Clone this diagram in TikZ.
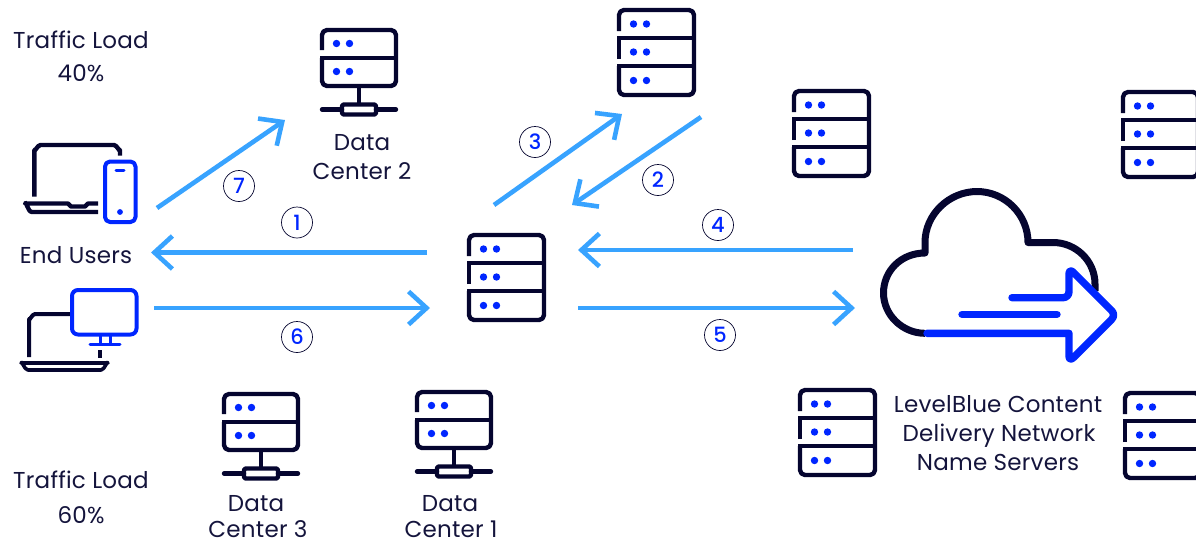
\documentclass[tikz,border=0pt]{standalone}
\usepackage{fontspec}
\setmainfont{Poppins}[LetterSpace=1]
\newfontfamily\numfont{Poppins Medium}
\usetikzlibrary{arrows.meta}
\definecolor{ink}{HTML}{05052F}
\definecolor{txt}{HTML}{14143C}
\definecolor{vivid}{HTML}{0026FF}
\definecolor{sky}{HTML}{38A3FF}
\tikzset{
  x=1pt,y=-1pt,
  icon/.style={draw=ink,line width=4.4pt,line cap=butt,line join=round},
  blueicon/.style={draw=vivid,line width=4.4pt,line cap=round,line join=round},
  led/.style={fill=vivid,draw=none},
  flow/.style={draw=sky,line width=4.6pt,-{Straight Barb[length=18pt,width=33pt,line width=4.6pt]}},
  label/.style={anchor=base,font=\fontsize{23}{28}\selectfont,text=txt,inner sep=0pt,align=center},
  stepnum/.style={circle,draw=ink,line width=0.7pt,minimum size=31pt,inner sep=0pt,text=vivid,font=\numfont\fontsize{21}{24}\selectfont},
  stackthree/.pic={
    \draw[icon,rounded corners=5pt] (2,23)--(2,2)--(77,2)--(77,87)--(2,87)--(2,58);
    \draw[icon] (0,58)--(77,58);
    \draw[icon] (2,51)--(2,30);
    \draw[icon] (0,30)--(77,30);
    \foreach \yy in {16,44,72.5}{
      \fill[led] (16.5,\yy) circle (3.7pt);
      \fill[led] (29.5,\yy) circle (3.7pt);
    }
  },
  stacktwo/.pic={
    \draw[icon,rounded corners=5pt] (2,22)--(2,2)--(76,2)--(76,58)--(2,58)--(2,30);
    \draw[icon] (0,30)--(76,30);
    \foreach \yy in {15.5,43.5}{
      \fill[led] (16.5,\yy) circle (3.7pt);
      \fill[led] (29.5,\yy) circle (3.7pt);
    }
    \draw[icon] (39,60)--(39,77);
    \draw[icon,line cap=round] (2,81.5)--(22,81.5);
    \draw[icon,line cap=round] (56,81.5)--(76,81.5);
    \draw[icon,rounded corners=1.5pt] (22,76.5) rectangle (56,86.5);
  }
}
\begin{document}
\begin{tikzpicture}
\useasboundingbox (0,0) rectangle (1196,542);
\begin{scope}
\clip (0,0) rectangle (1196,542);
% stacks
\pic (s1) at (467,233) {stackthree};
\pic (s2) at (617,8) {stackthree};
\pic (s3) at (792,89) {stackthree};
\pic (s4) at (1121,90) {stackthree};
\pic (s5) at (798,388) {stackthree};
\pic (s6) at (1123,391) {stackthree};
\end{scope}
\pic (dc2) at (320,28) {stacktwo};
\pic (dc3) at (222,392) {stacktwo};
\pic (dc1) at (415,390) {stacktwo};
% laptop + phone
\draw[icon] (34.3,196.7)--(34.3,150) to[out=-90,in=180] (40.5,145)--(114,145) to[out=0,in=-90] (120,150)--(120,155.7);
\draw[icon] (98,203.5)--(88,203.5)--(85,206.5)--(71,206.5)--(68,203.5)--(25,203.5) to[out=80,in=180] (32,212)--(98,212);
\draw[blueicon,line width=4pt,rounded corners=5pt] (105,161.5) rectangle (135.5,222);
\draw[blueicon,line width=3pt] (116,170.7)--(124,170.7);
\fill[led] (120,212) circle (2.9pt);
% monitor + laptop
\draw[icon,line width=4pt] (29,357)--(29,319) to[out=-90,in=180] (35,314)--(72,314);
\draw[blueicon,line width=4pt,rounded corners=6pt] (72,290) rectangle (136.5,334.5);
\draw[blueicon,line width=3pt,line cap=butt] (100,335)--(100,344) (110,335)--(110,344);
\draw[blueicon,line width=3pt] (90,344)--(120,344);
\draw[icon] (100,350)--(100,357.5);
\draw[icon,line width=3.6pt,line join=round] (21,363)--(108,363) to[out=100,in=0] (101,370)--(28,370) to[out=180,in=80] (21,363)--cycle;
% cloud
\draw[draw=ink,line width=7pt,line cap=butt,line join=round]
  (925,333.3) .. controls (902.6,333.3) and (883.5,315) .. (883.5,293)
  .. controls (883.5,271) and (901,253) .. (925,253)
  -- (925,242.5)
  .. controls (925,214.5) and (949,191.5) .. (977,191.5)
  .. controls (1005,191.5) and (1028,214.5) .. (1028,242.5)
  -- (1053,242.5)
  .. controls (1076,242.5) and (1095,261) .. (1095,284)
  -- (1095,291);
\draw[draw=vivid,line width=7.4pt,line cap=round,line join=round]
  (927,333.3)--(1069,333.3)
  [rounded corners=6pt] -- (1069,362)--(1116,315)--(1069,268)--(1069,297.7)
  [sharp corners] -- (1012,297.7);
\draw[draw=vivid,line width=7.4pt,line cap=round] (962,314.3)--(1057,314.3);
% anchors
\coordinate (a1s) at (427,252.5); \coordinate (a1e) at (151,252.5);
\coordinate (a6s) at (154,308); \coordinate (a6e) at (430,308);
\coordinate (a4s) at (853,250); \coordinate (a4e) at (578,250);
\coordinate (a5s) at (578,308); \coordinate (a5e) at (855,308);
\coordinate (a3s) at (494,205); \coordinate (a3e) at (622,114);
\coordinate (a2s) at (701,117); \coordinate (a2e) at (572,205);
\coordinate (a7s) at (157,208); \coordinate (a7e) at (285,120);
\foreach \n in {1,...,7}{\draw[flow] (a\n s)--(a\n e);}
% numbers
\node[stepnum] (n1) at (297,222.5) {1};
\node[stepnum] (n2) at (658,180) {2};
\node[stepnum] (n3) at (535,142) {3};
\node[stepnum] (n4) at (718,225) {4};
\node[stepnum] (n5) at (720,335) {5};
\node[stepnum] (n6) at (297,337) {6};
\node[stepnum] (n7) at (239,186) {7};
% labels
\node[label] (t1) at (81,48) {Traffic Load};
\node[label] (t2) at (81,81) {40\%};
\node[label] (t3) at (81,488) {Traffic Load};
\node[label] (t4) at (81,523) {60\%};
\node[label] (t5) at (76,263.5) {End Users};
\node[label] (t6) at (362,150) {Data};
\node[label] (t7) at (362,179) {Center 2};
\node[label] (t8) at (256,511.7) {Data};
\node[label] (t9) at (258,537.5) {Center 3};
\node[label] (t10) at (450,511.7) {Data};
\node[label] (t11) at (451,537.5) {Center 1};
\node[label] (t12) at (998,412.7) {LevelBlue Content};
\node[label] (t13) at (999,441.7) {Delivery Network};
\node[label] (t14) at (998,470.7) {Name Servers};
\end{tikzpicture}
\end{document}
